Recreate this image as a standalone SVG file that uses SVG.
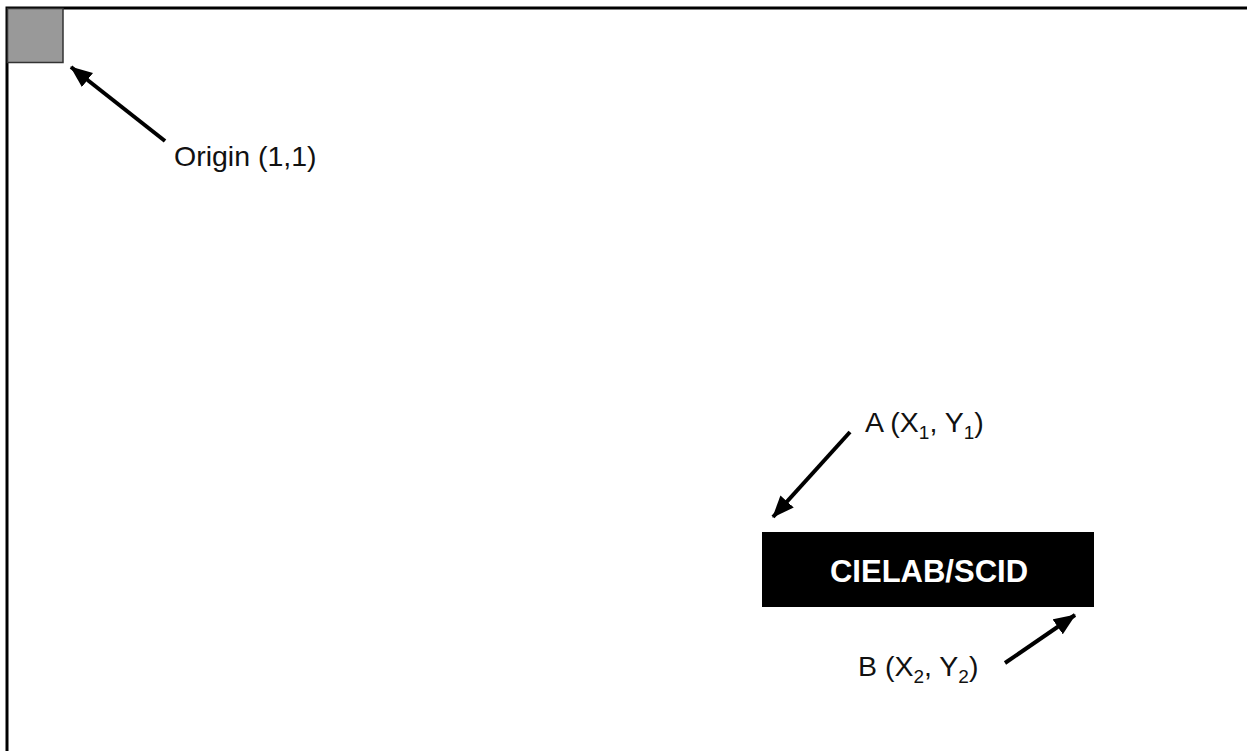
<svg xmlns="http://www.w3.org/2000/svg" width="1247" height="751" viewBox="0 0 1247 751">
<style>
.lbl{font-family:"Liberation Sans",Arial,sans-serif;font-size:28.5px;fill:#111}
.sub{font-size:19px}
.conn{stroke:#000;stroke-width:4;fill:none}
</style>
<defs>
<marker id="ah" viewBox="0 0 22 18" refX="21" refY="9" markerWidth="22" markerHeight="18" markerUnits="userSpaceOnUse" orient="auto">
<path d="M0,0 L22,9 L0,18 Z" fill="#000"/>
</marker>
</defs>
<rect width="1247" height="751" fill="#fff"/>
<g id="frame">
<path d="M7,751 V8 H1247" fill="none" stroke="#000" stroke-width="3"/>
</g>
<g id="origin">
<rect x="7.5" y="8.5" width="55.5" height="54" fill="#999" stroke="#333" stroke-width="1.5"/>
<text class="lbl" x="174" y="166">Origin (1,1)</text>
</g>
<g id="box">
<rect x="762" y="532" width="332" height="75" fill="#000"/>
<text x="929" y="582" text-anchor="middle" font-family="Liberation Sans, Arial, sans-serif" font-weight="bold" font-size="31" fill="#fff">CIELAB/SCID</text>
</g>
<g id="labelA">
<text class="lbl" x="865" y="432">A (X<tspan class="sub" dy="7">1</tspan><tspan dy="-7">, Y</tspan><tspan class="sub" dy="7">1</tspan><tspan dy="-7">)</tspan></text>
</g>
<g id="labelB">
<text class="lbl" x="858" y="676">B (X<tspan class="sub" dy="7">2</tspan><tspan dy="-7">, Y</tspan><tspan class="sub" dy="7">2</tspan><tspan dy="-7">)</tspan></text>
</g>
<g id="connectors">
<line class="conn" x1="165" y1="141" x2="71" y2="67" marker-end="url(#ah)"/>
<line class="conn" x1="850" y1="432" x2="773" y2="517" marker-end="url(#ah)"/>
<line class="conn" x1="1005" y1="663" x2="1075" y2="615" marker-end="url(#ah)"/>
</g>
</svg>
